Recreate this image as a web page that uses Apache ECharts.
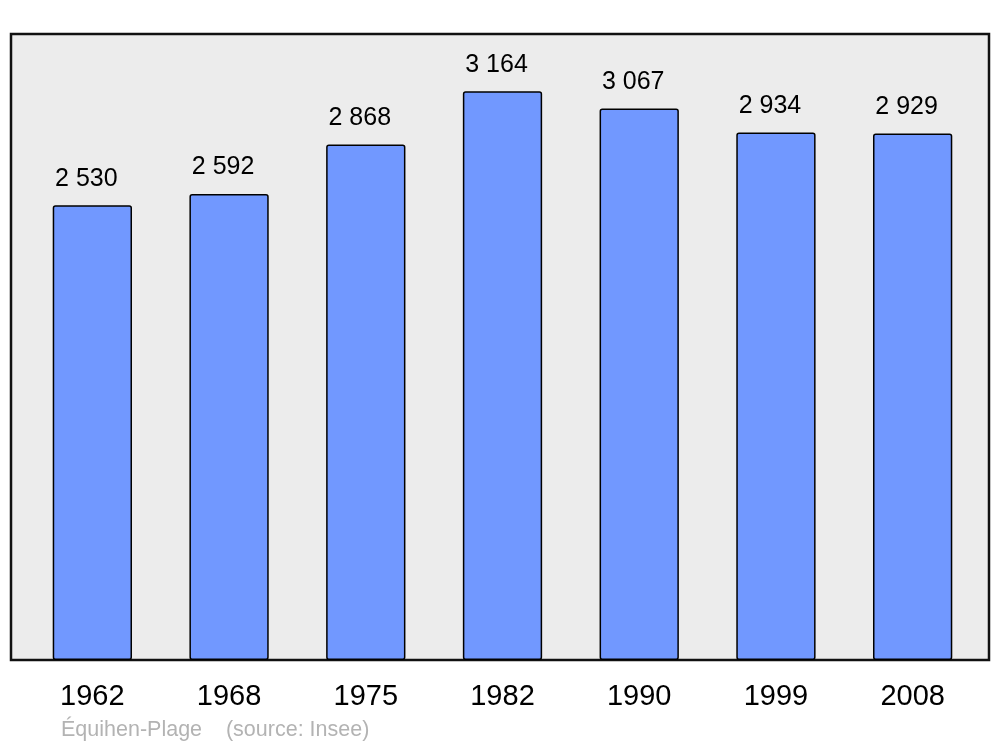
<!DOCTYPE html>
<html><head><meta charset="utf-8">
<script src="https://cdn.jsdelivr.net/npm/echarts@6/dist/echarts.min.js"></script>
<style>html,body{margin:0;padding:0;background:#fff}#c{width:1000px;height:747px}</style>
</head><body><div id="c"></div>
<script>
const years = ['1962','1968','1975','1982','1990','1999','2008'];
const population = [2530, 2592, 2868, 3164, 3067, 2934, 2929];
const caption = 'Équihen-Plage    (source: Insee)';

const fmt = v => String(v).replace(/\B(?=(\d{3})+(?!\d))/g, ' ');
const chart = echarts.init(document.getElementById('c'), null, {renderer: 'canvas'});
chart.setOption({
  animation: false,
  backgroundColor: '#ffffff',
  textStyle: {fontFamily: 'Liberation Sans, Arial, sans-serif'},
  grid: [
    {left: 11, right: 11, top: 34, bottom: 87, show: true,
     backgroundColor: '#ececec', borderColor: '#111111', borderWidth: 2.5},
    {left: 24, right: 19, top: 34, bottom: 87}
  ],
  xAxis: [
    {type: 'category', gridIndex: 0, data: years, show: false},
    {type: 'category', gridIndex: 1, data: years,
     axisLine: {show: false}, axisTick: {show: false},
     axisLabel: {fontSize: 29, color: '#000', margin: 22, fontFamily: 'Liberation Sans'}}
  ],
  yAxis: [
    {type: 'value', gridIndex: 0, show: false, splitLine: {show: false}},
    {type: 'value', gridIndex: 1, min: 0, max: 3482, show: false, splitLine: {show: false}}
  ],
  series: [{
    type: 'bar', xAxisIndex: 1, yAxisIndex: 1, data: population, barWidth: '58%',
    itemStyle: {color: '#7198ff', borderColor: '#000', borderWidth: 1.5, borderRadius: 2},
    label: {show: true, position: 'top', distance: 14, offset: [-6, 0],
            fontSize: 25, color: '#000', fontFamily: 'Liberation Sans',
            formatter: p => fmt(p.value)}
  }],
  graphic: [{type: 'text', left: 61, top: 719,
             style: {text: caption, fontSize: 21.5, fill: '#b3b3b3', fontFamily: 'Liberation Sans'}}]
});
</script></body></html>
